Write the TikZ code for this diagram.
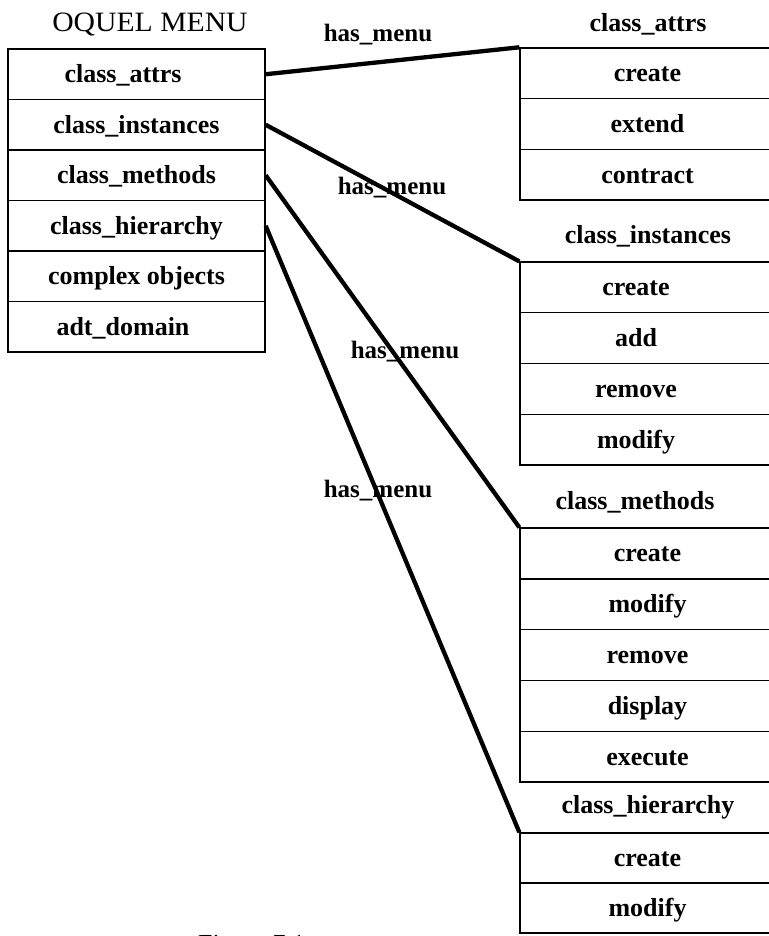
\documentclass[tikz,border=0pt]{standalone}
\usepackage{fontspec}
\setmainfont{Liberation Serif}
\newfontfamily\titlefont{Liberation Serif}[FakeStretch=1.06]
\begin{document}
\begin{tikzpicture}[x=1pt,y=-1pt,
  menu/.style={draw, line width=1.3pt, rectangle, inner sep=0pt,
    font=\bfseries\fontsize{26}{30}\selectfont, text height=19pt, text depth=2pt},
  lcell/.style={menu, minimum width=257pt, minimum height=50.5pt},
  rcell/.style={menu, minimum width=255pt, minimum height=50.7pt},
  head/.style={anchor=base, inner sep=0pt, font=\bfseries\fontsize{26}{30}\selectfont},
  lbl/.style={anchor=base, inner sep=0pt, font=\bfseries\fontsize{25}{29}\selectfont},
  link/.style={line width=4.3pt}]
\useasboundingbox (0,0) rectangle (768,936);

% main menu
\node[anchor=base, inner sep=0pt, font=\titlefont\fontsize{28}{32}\selectfont] (title) at (150,32) {OQUEL MENU};
\node[lcell] (m1) at (136.5,74.25)  {class\_attrs\hspace*{27pt}};
\node[lcell] (m2) at (136.5,124.75) {class\_instances};
\node[lcell] (m3) at (136.5,175.25) {class\_methods};
\node[lcell] (m4) at (136.5,225.75) {class\_hierarchy};
\node[lcell] (m5) at (136.5,276.25) {complex objects};
\node[lcell] (m6) at (136.5,326.75) {adt\_domain\hspace*{27pt}};

% class_attrs submenu
\node[head] (ha) at (648,32) {class\_attrs};
\node[rcell] (a1) at (647.5,73.3)  {create};
\node[rcell] (a2) at (647.5,124)   {extend};
\node[rcell] (a3) at (647.5,174.7) {contract};

% class_instances submenu
\node[head] (hi) at (648,243) {class\_instances};
\node[rcell] (i1) at (647.5,287.4) {create\hspace*{23pt}};
\node[rcell] (i2) at (647.5,338.1) {add\hspace*{23pt}};
\node[rcell] (i3) at (647.5,388.9) {remove\hspace*{23pt}};
\node[rcell] (i4) at (647.5,439.6) {modify\hspace*{23pt}};

% class_methods submenu
\node[head] (hm) at (635,509) {class\_methods};
\node[rcell] (e1) at (647.5,553.4) {create};
\node[rcell] (e2) at (647.5,604.2) {modify};
\node[rcell] (e3) at (647.5,655)   {remove};
\node[rcell] (e4) at (647.5,705.8) {display};
\node[rcell] (e5) at (647.5,756.6) {execute};

% class_hierarchy submenu
\node[head] (hh) at (648,813) {class\_hierarchy};
\node[rcell, minimum height=50pt] (h1) at (647.5,858) {create};
\node[rcell, minimum height=50pt] (h2) at (647.5,908) {modify};

% has_menu links
\draw[link] (m1.east) -- (a1.north west);
\draw[link] (m2.east) -- (i1.north west);
\draw[link] (m3.east) -- (e1.north west);
\draw[link] (m4.east) -- (h1.north west);

\node[lbl] (l1) at (378,42)  {has\_menu};
\node[lbl] (l2) at (392,194) {has\_menu};
\node[lbl] (l3) at (405,358) {has\_menu};
\node[lbl] (l4) at (378,497) {has\_menu};

% caption, running off the lower edge
\node[anchor=base west, inner sep=0pt, font=\fontsize{26}{30}\selectfont] (cap) at (198,952) {Figure 7.1};
\end{tikzpicture}
\end{document}
